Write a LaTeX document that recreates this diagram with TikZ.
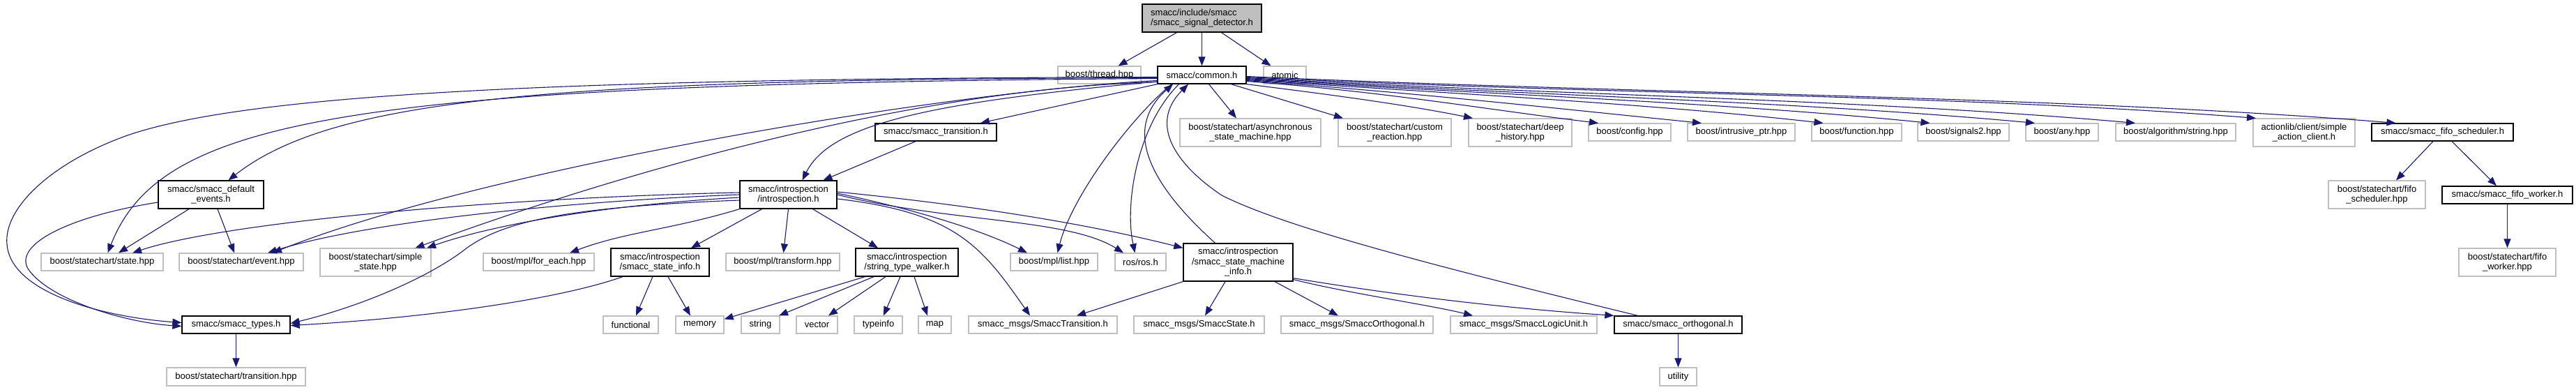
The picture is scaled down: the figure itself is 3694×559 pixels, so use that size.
\documentclass[tikz,border=0pt]{standalone}
\usepackage{fontspec}
\setmainfont{Liberation Sans}
\usetikzlibrary{arrows.meta}

\definecolor{edgeblue}{HTML}{191970}
\definecolor{extgray}{HTML}{BFBFBF}

\begin{document}
\begin{tikzpicture}[x=1pt, y=-1pt,
  every node/.style={font=\fontsize{13}{14.5}\selectfont, inner sep=0pt, align=center, minimum height=25},
  hfile/.style={draw=black, line width=1.3pt},
  xfile/.style={draw=extgray, line width=1.2pt},
  tall/.style={minimum height=40},
  incl/.style={draw=edgeblue, line width=1.1pt, -{Triangle[length=13pt,width=10pt]}}]
  \useasboundingbox (0,0) rectangle (3694,559);

  % top rows
  \node[hfile, fill=extgray, align=left, tall, minimum width=171] (root) at (1723.5,26) {smacc/include/smacc\\/smacc\_signal\_detector.h};
  \node[xfile, minimum width=119] (thread) at (1576.5,107.5) {boost/thread.hpp};
  \node[hfile, minimum width=127] (common) at (1723.5,107.5) {smacc/common.h};
  \node[xfile, minimum width=61] (atomic) at (1842.5,107.5) {atomic};

  % included by common.h
  \node[hfile, minimum width=174] (trans) at (1342,189.5) {smacc/smacc\_transition.h};
  \node[xfile, tall, minimum width=202] (async) at (1793,190) {boost/statechart/asynchronous\\\_state\_machine.hpp};
  \node[xfile, tall, minimum width=162] (custom) at (2000,190) {boost/statechart/custom\\\_reaction.hpp};
  \node[xfile, tall, minimum width=148] (deephist) at (2180,190) {boost/statechart/deep\\\_history.hpp};
  \node[xfile, minimum width=118] (config) at (2337,189.5) {boost/config.hpp};
  \node[xfile, minimum width=154] (intrusive) at (2497,189.5) {boost/intrusive\_ptr.hpp};
  \node[xfile, minimum width=129] (function) at (2662.5,189.5) {boost/function.hpp};
  \node[xfile, minimum width=131] (signals) at (2815.5,189.5) {boost/signals2.hpp};
  \node[xfile, minimum width=104] (any) at (2957,189.5) {boost/any.hpp};
  \node[xfile, minimum width=172] (algo) at (3120,189.5) {boost/algorithm/string.hpp};
  \node[xfile, tall, minimum width=146] (actionlib) at (3304,190) {actionlib/client/simple\\\_action\_client.h};
  \node[hfile, minimum width=203] (fifosched) at (3502.5,189.5) {smacc/smacc\_fifo\_scheduler.h};
  \node[xfile, tall, minimum width=139] (fsh) at (3408.5,279) {boost/statechart/fifo\\\_scheduler.hpp};
  \node[hfile, minimum width=187] (fifoworker) at (3595.5,279.5) {smacc/smacc\_fifo\_worker.h};
  \node[xfile, tall, minimum width=139] (fwh) at (3595.5,376) {boost/statechart/fifo\\\_worker.hpp};

  % middle rows
  \node[hfile, tall, minimum width=151] (defevents) at (302.5,279) {smacc/smacc\_default\\\_events.h};
  \node[hfile, tall, minimum width=139] (intro) at (1130.5,279) {smacc/introspection\\/introspection.h};
  \node[xfile, minimum width=175] (state) at (146.5,375.5) {boost/statechart/state.hpp};
  \node[xfile, minimum width=178] (event) at (346,375.5) {boost/statechart/event.hpp};
  \node[xfile, tall, minimum width=159] (simplestate) at (538.5,376) {boost/statechart/simple\\\_state.hpp};
  \node[xfile, minimum width=159] (foreach) at (772.5,375.5) {boost/mpl/for\_each.hpp};
  \node[hfile, tall, minimum width=141] (stateinfo) at (946.5,376) {smacc/introspection\\/smacc\_state\_info.h};
  \node[xfile, minimum width=163] (transform) at (1122.5,375.5) {boost/mpl/transform.hpp};
  \node[hfile, tall, minimum width=147] (walker) at (1300.5,376) {smacc/introspection\\/string\_type\_walker.h};
  \node[xfile, minimum width=125] (mpllist) at (1511.5,375.5) {boost/mpl/list.hpp};
  \node[xfile, minimum width=73] (ros) at (1635.5,375.5) {ros/ros.h};
  \node[hfile, minimum height=54, minimum width=157] (smi) at (1775.5,376) {smacc/introspection\\/smacc\_state\_machine\\\_info.h};

  % bottom rows
  \node[hfile, minimum width=155] (types) at (338.5,465.5) {smacc/smacc\_types.h};
  \node[xfile, minimum width=79] (functional) at (904.5,465.5) {functional};
  \node[xfile, minimum width=69] (memory) at (1003.5,465.5) {memory};
  \node[xfile, minimum width=55] (string) at (1090.5,465.5) {string};
  \node[xfile, minimum width=59] (vector) at (1171.5,465.5) {vector};
  \node[xfile, minimum width=69] (typeinfo) at (1259.5,465.5) {typeinfo};
  \node[xfile, minimum width=47] (map) at (1340.5,465.5) {map};
  \node[xfile, minimum width=213] (msgtrans) at (1495.5,465.5) {smacc\_msgs/SmaccTransition.h};
  \node[xfile, minimum width=187] (msgstate) at (1719.5,465.5) {smacc\_msgs/SmaccState.h};
  \node[xfile, minimum width=218] (msgorth) at (1946,465.5) {smacc\_msgs/SmaccOrthogonal.h};
  \node[xfile, minimum width=210] (msglogic) at (2185,465.5) {smacc\_msgs/SmaccLogicUnit.h};
  \node[hfile, minimum width=183] (orth) at (2406.5,465.5) {smacc/smacc\_orthogonal.h};
  \node[xfile, minimum height=26, minimum width=199] (transition) at (338.5,540) {boost/statechart/transition.hpp};
  \node[xfile, minimum height=26, minimum width=53] (utility) at (2406.5,540) {utility};

  % root
  \draw[incl] ([xshift=-36pt]root.south) -- ([xshift=27pt]thread.north);
  \draw[incl] (root) -- (common);
  \draw[incl] ([xshift=28pt]root.south) -- ([xshift=-20pt]atomic.north);

  % common.h, right side
  \draw[incl] ([xshift=10pt]common.south) -- ([xshift=-20pt]async.north);
  \draw[incl] ([xshift=42pt]common.south) -- ([xshift=-74pt]custom.north);
  \draw[incl] (common.south east) .. controls +(120,15) and +(-100,-20) .. ([xshift=-68pt]deephist.north);
  \draw[incl] ([yshift=-9pt]common.east) .. controls +(200,15) and +(-150,-18) .. ([xshift=-45pt]config.north);
  \draw[incl] ([yshift=-8pt]common.east) .. controls +(250,18) and +(-200,-20) .. ([xshift=-57pt]intrusive.north);
  \draw[incl] ([yshift=-7pt]common.east) .. controls +(300,20) and +(-250,-28) .. ([xshift=-48pt]function.north);
  \draw[incl] ([yshift=-6pt]common.east) .. controls +(350,22) and +(-300,-30) .. ([xshift=-48pt]signals.north);
  \draw[incl] ([yshift=-5pt]common.east) .. controls +(400,24) and +(-350,-32) .. ([xshift=-39pt]any.north);
  \draw[incl] ([yshift=-4pt]common.east) .. controls +(450,25) and +(-400,-35) .. ([xshift=-58pt]algo.north);
  \draw[incl] ([yshift=-3pt]common.east) .. controls +(500,25) and +(-450,-35) .. ([xshift=-69pt]actionlib.north);
  \draw[incl] ([yshift=-2pt]common.east) .. controls +(550,25) and +(-500,-40) .. ([xshift=-67pt]fifosched.north);

  % common.h, left side
  \draw[incl] (common.south west) -- ([xshift=64pt]trans.north);
  \draw[incl] ([yshift=-9.5pt]common.west) .. controls +(-330,30) and +(40,-80) .. ([xshift=20pt]intro.north);
  \draw[incl] ([yshift=-8pt]common.west) .. controls +(-300,15) and +(300,-120) .. ([xshift=45pt]event.north);
  \draw[incl] ([yshift=-10pt]common.west) .. controls +(-350,10) and +(300,-110) .. ([xshift=57pt]simplestate.north);
  \draw[incl] ([yshift=-4pt]common.west) .. controls +(-860,2) and +(152,-119) .. ([xshift=25pt]defevents.north);
  \draw[incl] ([yshift=-5pt]common.west) .. controls +(-1160,8) and +(76,-193) .. ([xshift=8pt]state.north);
  \draw[incl] ([yshift=-3pt]common.west) .. controls +(-860,2) and +(170,-60) .. (180,195)
    .. controls +(-110,40) and +(-5,-50) .. (10,350)
    .. controls +(5,70) and +(-111,-8) .. ([yshift=3pt]types.west);

  % common.h, down
  \draw[incl] ([xshift=-43.5pt]common.south) .. controls +(-60,50) and +(20,-80) .. ([xshift=5pt]mpllist.north);
  \draw[incl] ([xshift=-33pt]common.south) .. controls +(-60,60) and +(-15,-70) .. ([xshift=-8pt]ros.north);

  % back to common.h
  \draw[incl] ([xshift=-33pt]smi.north) .. controls +(-100,-90) and +(-70,62) .. ([xshift=-41.5pt]common.south);
  \draw[incl] ([xshift=-58pt]orth.north) .. controls +(-350,-85) and +(80,40) .. (1752,280)
    .. controls +(-60,-40) and +(-60,60) .. ([xshift=-19.5pt]common.south);

  % smacc_transition.h
  \draw[incl] ([xshift=-29pt]trans.south) -- ([xshift=50pt]intro.north);

  % introspection.h
  \draw[incl] ([yshift=3pt]intro.west) .. controls +(-361,8) and +(130,-43) .. ([xshift=43.5pt]state.north);
  \draw[incl] (intro.west) .. controls +(-260,10) and +(136,-43) .. ([xshift=38pt]event.north);
  \draw[incl] ([yshift=-4pt]intro.west) .. controls +(-210,12) and +(88,-31) .. ([xshift=73.5pt]simplestate.north);
  \draw[incl] ([yshift=-8pt]intro.west) .. controls +(-260,10) and +(50,-35) .. (670,355)
    .. controls +(-50,40) and +(104,-25) .. ([yshift=2pt]types.east);
  \draw[incl] (intro.south west) .. controls +(-100,30) and +(80,-30) .. ([xshift=44.5pt]foreach.north);
  \draw[incl] ([xshift=-38pt]intro.south) -- ([xshift=44.5pt]stateinfo.north);
  \draw[incl] (intro.south) -- ([xshift=1pt]transform.north);
  \draw[incl] ([xshift=35pt]intro.south) -- ([xshift=-41.5pt]walker.north);
  \draw[incl] ([yshift=2pt]intro.east) .. controls +(120,25) and +(-60,-30) .. ([xshift=-38.5pt]mpllist.north);
  \draw[incl] (intro.east) .. controls +(160,40) and +(-80,-50) .. ([xshift=-24.5pt]ros.north);
  \draw[incl] ([yshift=4pt]intro.east) .. controls +(250,25) and +(-100,-25) .. ([yshift=-7pt]smi.north west);
  \draw[incl] ([yshift=-6pt]intro.east) .. controls +(170,20) and +(-70,-100) .. ([xshift=-18.5pt]msgtrans.north);

  % smacc_default_events.h
  \draw[incl] ([xshift=-31.5pt]defevents.south) -- ([xshift=23.5pt]state.north);
  \draw[incl] ([xshift=9.5pt]defevents.south) -- ([xshift=-10pt]event.north);
  \draw[incl] ([yshift=-11pt]defevents.west) .. controls +(-127,20) and +(-20,-35) .. (40,385)
    .. controls +(30,45) and +(-80,-5) .. ([yshift=-2pt]types.west);

  % smacc_state_info.h
  \draw[incl] ([xshift=-10.5pt]stateinfo.south) -- ([xshift=7.5pt]functional.north);
  \draw[incl] ([xshift=11.5pt]stateinfo.south) -- ([xshift=-13.5pt]memory.north);
  \draw[incl] ([xshift=-53.5pt]stateinfo.south) .. controls +(-100,35) and +(180,-10) .. ([yshift=-1pt]types.east);

  % string_type_walker.h
  \draw[incl] ([xshift=-60pt]walker.south) -- ([yshift=-5pt]memory.north east);
  \draw[incl] ([xshift=-47.5pt]walker.south) -- ([xshift=26.5pt]string.north);
  \draw[incl] ([xshift=-30.5pt]walker.south) -- ([xshift=16.5pt]vector.north);
  \draw[incl] ([xshift=-9.5pt]walker.south) -- ([xshift=7.5pt]typeinfo.north);
  \draw[incl] ([xshift=10.5pt]walker.south) -- ([xshift=-10.5pt]map.north);

  % smacc_state_machine_info.h
  \draw[incl] (smi.south west) -- ([xshift=48.5pt]msgtrans.north);
  \draw[incl] ([xshift=-18.5pt]smi.south) -- ([xshift=8.5pt]msgstate.north);
  \draw[incl] ([xshift=52.5pt]smi.south) -- ([xshift=-27pt]msgorth.north);
  \draw[incl] ([yshift=3pt]smi.south east) .. controls +(80,20) and +(-60,-15) .. ([xshift=-73pt]msglogic.north);
  \draw[incl] ([yshift=5pt]smi.south east) .. controls +(150,25) and +(-150,-10) .. (orth.north west);

  % the rest
  \draw[incl] (orth) -- (utility);
  \draw[incl] (types) -- (transition);
  \draw[incl] ([xshift=-13.5pt]fifosched.south) -- ([xshift=27.5pt]fsh.north);
  \draw[incl] ([xshift=13.5pt]fifosched.south) -- ([xshift=-15.5pt]fifoworker.north);
  \draw[incl] (fifoworker) -- (fwh);
\end{tikzpicture}
\end{document}
